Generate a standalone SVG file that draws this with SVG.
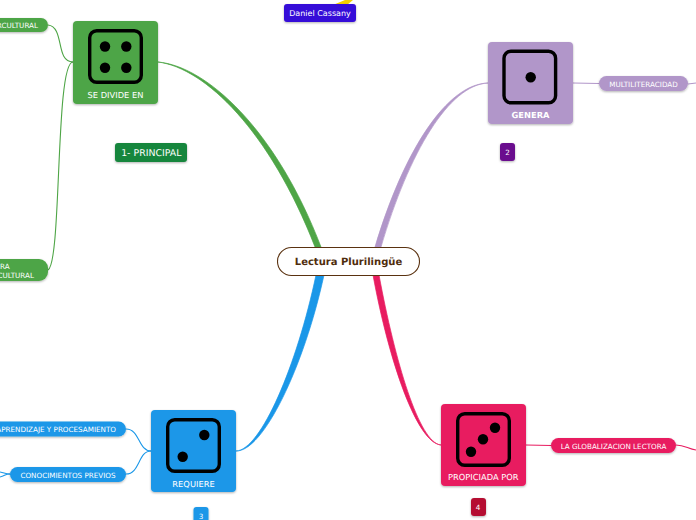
<svg xmlns="http://www.w3.org/2000/svg" width="696" height="520" viewBox="0 0 696 520">
<defs>
<filter id="sh" x="-20%" y="-20%" width="140%" height="150%"><feDropShadow dx="0" dy="1" stdDeviation="1" flood-color="#000" flood-opacity="0.3"/></filter>
<g id="face"><rect x="1.700" y="1.700" width="51.600" height="51.600" rx="7" fill="none" stroke="#000" stroke-width="3.400"/></g>
</defs>
<style>
text{font-family:"DejaVu Sans",Verdana,sans-serif;fill:#fff;text-anchor:middle;text-rendering:geometricPrecision}
.t{font-size:8.300px}
.s{font-size:7.200px}
.l{fill:none;stroke-width:1.100}
.b{filter:url(#sh)}
.w{stroke-width:0.700;stroke-linejoin:round}
</style>
<rect width="696" height="520" fill="#fff"/>
<g id="connectors">
<path class="w" d="M158 62C205 68 270 131 315 247L321 247C276 129 206 66 158 62Z" fill="#4ea546" stroke="#4ea546"/>
<path class="w" d="M488 83C447 84 404 150 375 247L381 247C409 152 449 85 488 83Z" fill="#b196c9" stroke="#b196c9"/>
<path class="w" d="M236 451C261 450 297 365 316 275L324 275C304 367 263 452 236 451Z" fill="#1a97e8" stroke="#1a97e8"/>
<path class="w" d="M441 445C417 443 389 362 373 275L379 275C395 361 419 443 441 445Z" fill="#e81c60" stroke="#e81c60"/>
<path d="M333 5L345 0L353 0L347 5Z" fill="#f4d000"/>
<g class="l" stroke="#4ea546">
<path d="M48 25C65 27 55 62 73 62"/>
<path d="M48 270C62 262 55 62 73 62"/>
</g>
<g class="l" stroke="#1a97e8">
<path d="M126 429C140 429 138 451 151 451"/>
<path d="M126 474C140 474 138 451 151 451"/>
<path d="M0 472C5 473 5 474 10 474"/>
<path d="M0 477C5 476 5 474 10 474"/>
</g>
<g class="l" stroke="#e81c60">
<path d="M526 445L551 445.500"/>
<path d="M676 445C685 445 688 449 696 450"/>
</g>
<g class="l" stroke="#b196c9">
<path d="M573 83L599 83.500"/>
<path d="M688 84L696 83"/>
</g>
</g>
<g id="center"><rect x="277.500" y="247.500" width="142" height="28" rx="14" fill="#fff" stroke="#5a3210" stroke-width="1.100"/><text x="348.500" y="265" style="font-size:10px;font-weight:700;fill:#4f2d0d">Lectura Plurilingüe</text></g>
<g id="n-divide"><rect class="b" x="73" y="21" width="85" height="83" rx="4" fill="#4ea546"/><use href="#face" x="88" y="29"/><circle cx="105" cy="46.500" r="5.200" fill="#000"/><circle cx="126.300" cy="46.500" r="5.200" fill="#000"/><circle cx="105" cy="67.700" r="5.200" fill="#000"/><circle cx="126.300" cy="67.700" r="5.200" fill="#000"/><text class="t" x="115.500" y="98">SE DIVIDE EN</text></g>
<g id="n-genera"><rect class="b" x="488" y="42" width="85" height="82" rx="4" fill="#b196c9"/><use href="#face" x="502.300" y="49.500"/><circle cx="530.700" cy="77.300" r="5.200" fill="#000"/><text class="t" x="530.500" y="118" style="font-weight:700">GENERA</text></g>
<g id="n-requiere"><rect class="b" x="151" y="410" width="85" height="82" rx="4" fill="#1a97e8"/><use href="#face" x="166" y="418"/><circle cx="204.300" cy="435" r="5.200" fill="#000"/><circle cx="182.700" cy="456.700" r="5.200" fill="#000"/><text class="t" x="193.500" y="487">REQUIERE</text></g>
<g id="n-propiciada"><rect class="b" x="441" y="404" width="85" height="82" rx="4" fill="#e81c60"/><use href="#face" x="456" y="412"/><circle cx="495" cy="427.700" r="5.200" fill="#000"/><circle cx="483" cy="439.300" r="5.200" fill="#000"/><circle cx="471" cy="451.700" r="5.200" fill="#000"/><text class="t" x="483.300" y="480">PROPICIADA POR</text></g>
<g id="n-principal"><rect class="b" x="115" y="143" width="72" height="19" rx="3" fill="#14863c"/><text x="151.300" y="156" style="font-size:9.400px">1- PRINCIPAL</text></g>
<g id="n-cassany"><rect class="b" x="284" y="4" width="72" height="18" rx="3" fill="#3408d8"/><text x="320" y="16" style="font-size:8px">Daniel Cassany</text></g>
<g id="n-2"><rect class="b" x="500" y="143" width="15" height="18" rx="3" fill="#6a0a8e"/><text class="s" x="507.500" y="155">2</text></g>
<g id="n-3"><rect class="b" x="193.500" y="507" width="15" height="18" rx="3" fill="#1a97e8"/><text class="s" x="201" y="519">3</text></g>
<g id="n-4"><rect class="b" x="471" y="498" width="15" height="18" rx="3" fill="#b50f30"/><text class="s" x="478" y="510">4</text></g>
<g id="n-multi"><rect class="b" x="599" y="76" width="89" height="15" rx="7.500" fill="#b196c9"/><text class="s" x="643.500" y="86.500">MULTILITERACIDAD</text></g>
<g id="n-global"><rect class="b" x="551" y="438" width="125" height="15" rx="7.500" fill="#e81c60"/><text class="s" x="613.500" y="448.500">LA GLOBALIZACION LECTORA</text></g>
<g id="n-aprendizaje"><rect class="b" x="-20" y="421.500" width="146" height="15" rx="7.500" fill="#1a97e8"/><text class="s" x="116" y="431.500" style="text-anchor:end">APRENDIZAJE Y PROCESAMIENTO</text></g>
<g id="n-conocimientos"><rect class="b" x="10" y="467" width="116" height="15" rx="7.500" fill="#1a97e8"/><text class="s" x="68" y="477.500">CONOCIMIENTOS PREVIOS</text></g>
<g id="n-cultural"><rect class="b" x="-40" y="18" width="88" height="14" rx="7" fill="#4ea546"/><text class="s" x="38" y="28" style="text-anchor:end">RCULTURAL</text></g>
<g id="n-cultura2"><rect class="b" x="-40" y="259" width="88" height="22" rx="9" fill="#4ea546"/><text class="s" x="0" y="268.500" style="text-anchor:start">RA</text><text class="s" x="34" y="277.500" style="text-anchor:end">CULTURAL</text></g>
</svg>
